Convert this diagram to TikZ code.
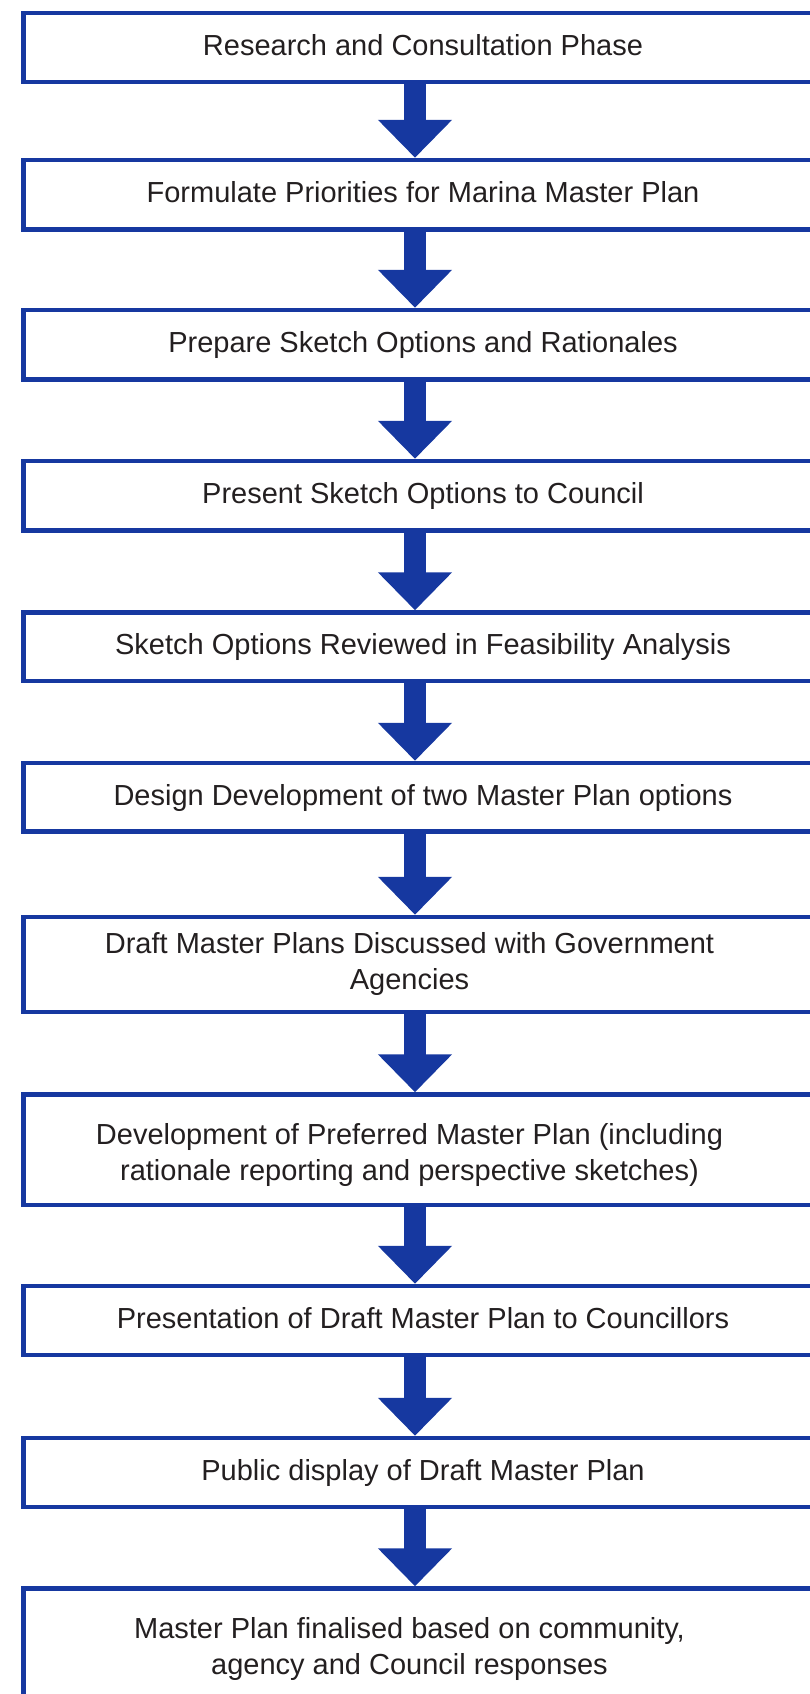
\documentclass[tikz,border=0pt]{standalone}
\usepackage{fontspec}
\setmainfont{Liberation Sans}
\usetikzlibrary{arrows.meta}
\definecolor{planblue}{RGB}{22,56,160}
\definecolor{plantext}{RGB}{35,31,32}

\begin{document}
\begin{tikzpicture}[x=1pt,y=-1pt,
	stagebox/.style={draw=planblue,line width=4.5pt,minimum width=799pt,inner sep=0pt,
		text=plantext,font=\fontsize{29}{36}\selectfont},
	oneline/.style={text height=21pt,text depth=5pt},
	twoline/.style={},
	flow/.style={planblue,line width=22pt,-{Triangle[width=72pt,length=38pt]}}]
		% canvas
		\useasboundingbox (0,0) rectangle (810,1694);
		\coordinate (ax) at (415,0);
		
		% stages
		\foreach \i/\yc/\hgt/\sty/\txt in {
			1/47.5/69/oneline/{Research and Consultation Phase},
			2/194.75/69.5/oneline/{Formulate Priorities for Marina Master Plan},
			3/344.75/69.5/oneline/{Prepare Sketch Options and Rationales},
			4/495.75/69.5/oneline/{Present Sketch Options to Council},
			5/646.75/68.5/oneline/{Sketch Options Reviewed in Feasibility Analysis},
			6/797.25/68.5/oneline/{Design Development of two Master Plan options},
			7/964.5/95/twoline/{\hspace*{-27pt}\begin{tabular}{@{}c@{}}Draft Master Plans Discussed with Government\\Agencies\end{tabular}},
			8/1149.75/110.5/twoline/{\hspace*{-27pt}\begin{tabular}{@{}c@{}}\rule{0pt}{37.2pt}Development of Preferred Master Plan (including\\rationale reporting and perspective sketches)\end{tabular}},
			9/1320.5/69/oneline/{Presentation of Draft Master Plan to Councillors},
			10/1472.5/69/oneline/{Public display of Draft Master Plan},
			11/1649/121/twoline/{\hspace*{-27pt}\begin{tabular}{@{}c@{}}Master Plan finalised based on community,\\agency and Council responses\end{tabular}}}
		\node[stagebox,\sty,minimum height=\hgt pt] (s\i) at (423,\yc) {\txt};
		
		% arrows
		\foreach \a [count=\b from 2] in {1,...,10}
		\draw[flow] (s\a.south -| ax) -- (s\b.north -| ax);
	\end{tikzpicture}
\end{document}
